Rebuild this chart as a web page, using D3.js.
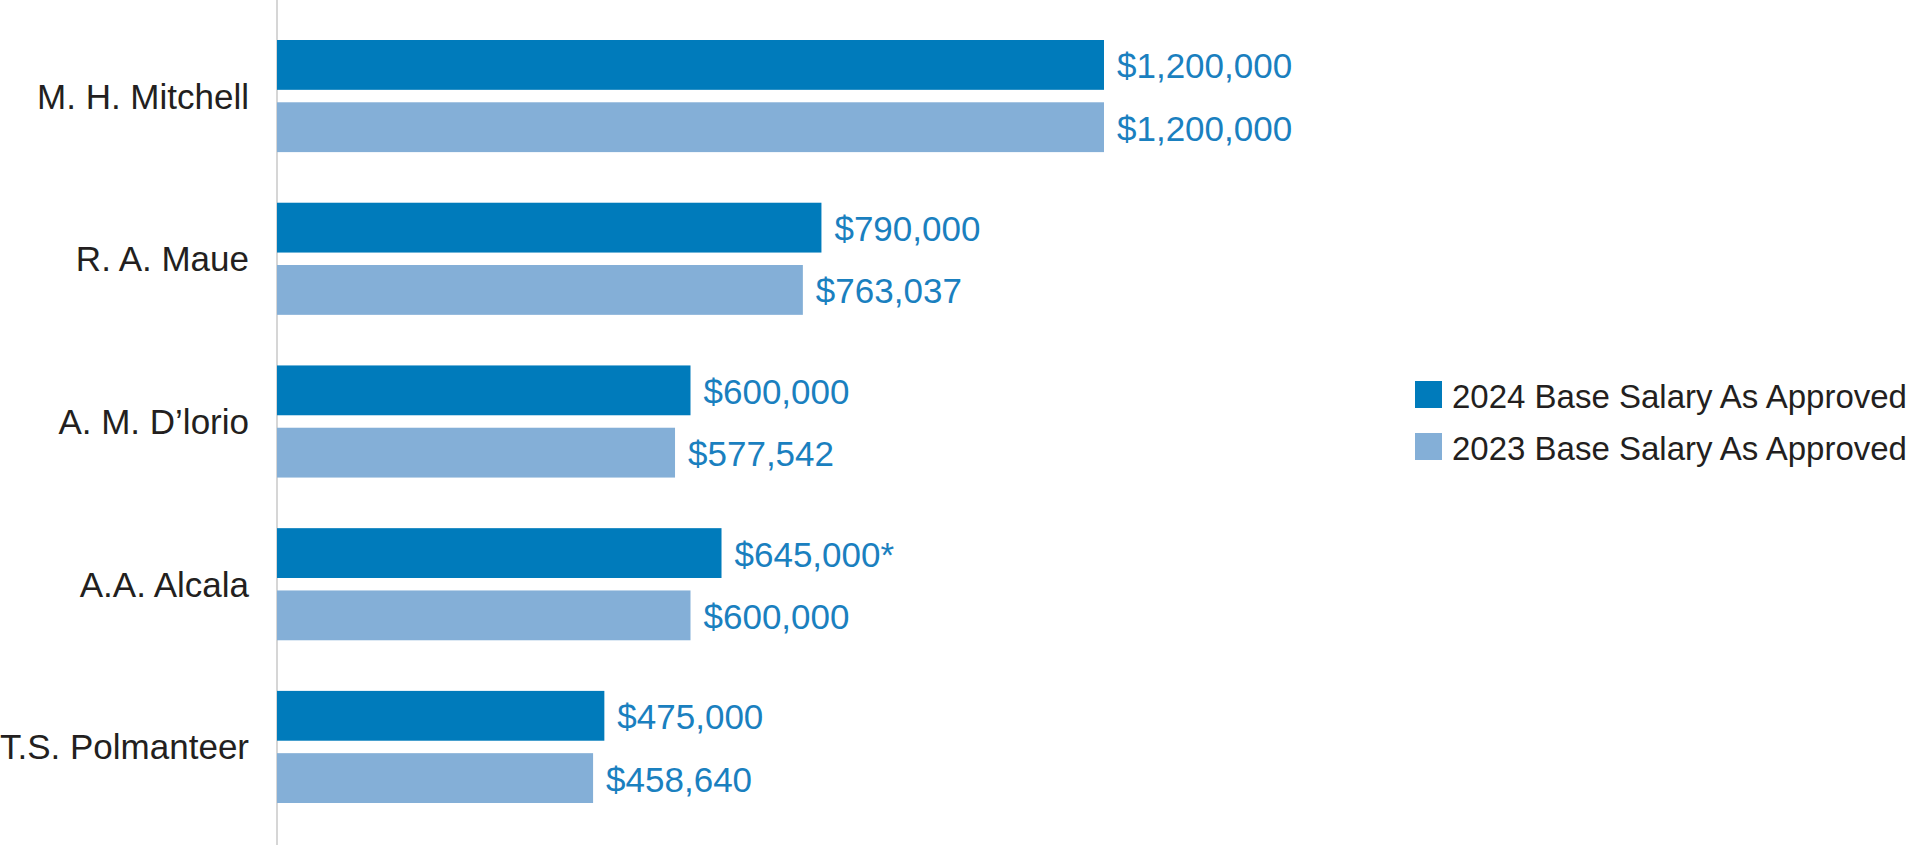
<!DOCTYPE html>
<html lang="en">
<head>
<meta charset="utf-8">
<title>Base Salary</title>
<script src="https://d3js.org/d3.v7.min.js"></script>
<style>
  body { margin: 0; background: #fff; }
  text { font-family: "Liberation Sans", Arial, Helvetica, sans-serif; }
</style>
</head>
<body>
<div id="chart"></div>
<script>
// data
const names = ["M. H. Mitchell", "R. A. Maue", "A. M. D\u2019lorio", "A.A. Alcala", "T.S. Polmanteer"];
const series = ["2024 Base Salary As Approved", "2023 Base Salary As Approved"];
const salary2024 = [1200000, 790000, 600000, 645000, 475000];
const salary2023 = [1200000, 763037, 577542, 600000, 458640];
const notes2024 = ["", "", "", "*", ""];
const notes2023 = ["", "", "", "", ""];

const width = 1915, height = 845;
const colors = ["#007bbb", "#84afd7"];

const svg = d3.select("#chart").append("svg")
  .attr("width", width)
  .attr("height", height);

const x = d3.scaleLinear()
  .domain([0, 1200000])
  .range([277, 1104]);

const y = d3.scaleBand()
  .domain(names)
  .range([40, 803])
  .paddingInner(0.311)
  .paddingOuter(0);

const ySub = d3.scaleBand()
  .domain(series)
  .range([0, y.bandwidth()])
  .paddingInner(0.2);

const fmt = d3.format("$,");

const rows = names.map((n, i) => ({
  name: n,
  vals: [
    {key: series[0], v: salary2024[i], note: notes2024[i]},
    {key: series[1], v: salary2023[i], note: notes2023[i]}
  ]
}));

// axis line on the left
svg.append("line")
  .attr("x1", x(0)).attr("x2", x(0))
  .attr("y1", 0).attr("y2", height)
  .attr("stroke", "#c9c9c9")
  .attr("stroke-width", 1.5);

// name labels
svg.selectAll(".name")
  .data(rows)
  .join("text")
    .attr("class", "name")
    .attr("x", x(0) - 28)
    .attr("y", d => y(d.name) + y.bandwidth() / 2)
    .attr("text-anchor", "end")
    .attr("dominant-baseline", "central")
    .style("font-size", "35px")
    .style("fill", "#231f20")
    .text(d => d.name);

const g = svg.selectAll(".grp")
  .data(rows)
  .join("g")
    .attr("class", "grp")
    .attr("transform", d => `translate(0,${y(d.name)})`);

g.selectAll("rect")
  .data(d => d.vals)
  .join("rect")
    .attr("x", x(0))
    .attr("y", d => ySub(d.key))
    .attr("width", d => x(d.v) - x(0))
    .attr("height", ySub.bandwidth())
    .attr("fill", (d, i) => colors[i]);

g.selectAll(".val")
  .data(d => d.vals)
  .join("text")
    .attr("class", "val")
    .attr("x", d => x(d.v) + 13)
    .attr("y", d => ySub(d.key) + ySub.bandwidth() / 2 + 1)
    .attr("dominant-baseline", "central")
    .style("font-size", "35px")
    .style("fill", "#1a80bf")
    .text(d => fmt(d.v) + d.note);

// legend
const legend = svg.append("g")
  .attr("transform", "translate(1415,381)");

const item = legend.selectAll("g")
  .data(series)
  .join("g")
    .attr("transform", (d, i) => `translate(0,${i * 52})`);

item.append("rect")
  .attr("width", 27)
  .attr("height", 27)
  .attr("fill", (d, i) => colors[i]);

item.append("text")
  .attr("x", 37)
  .attr("y", 15)
  .attr("dominant-baseline", "central")
  .style("font-size", "33px")
  .style("fill", "#231f20")
  .text(d => d);
</script>
</body>
</html>
